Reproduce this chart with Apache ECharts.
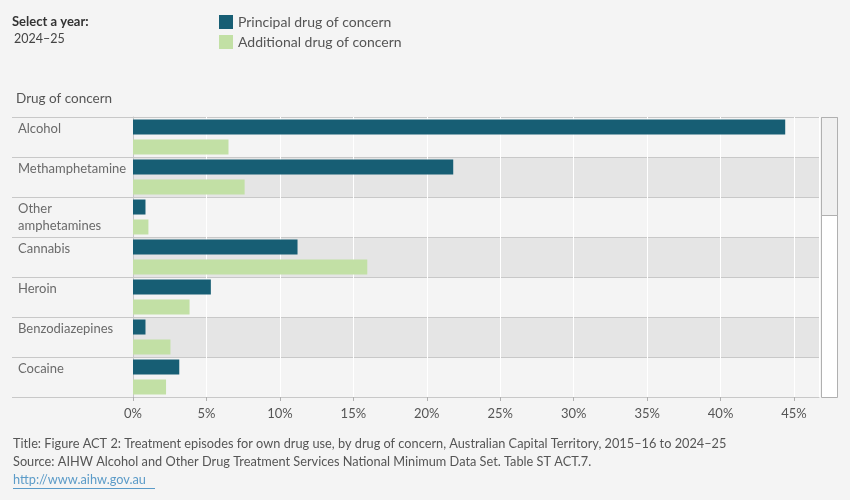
<!DOCTYPE html>
<html><head><meta charset="utf-8">
<script src="https://cdn.jsdelivr.net/npm/echarts@6/dist/echarts.min.js"></script>
<style>html,body{margin:0;padding:0;background:#f4f4f4}#c{width:850px;height:500px}</style>
</head><body><div id="c"></div>
<script>
const categories = ['Alcohol','Methamphetamine','Other amphetamines','Cannabis','Heroin','Benzodiazepines','Cocaine'];
const principal = [44.4, 21.8, 0.85, 11.2, 5.3, 0.85, 3.15];
const additional = [6.5, 7.6, 1.05, 15.95, 3.85, 2.55, 2.25];
const seriesNames = ['Principal drug of concern','Additional drug of concern'];
const xTicks = [0,5,10,15,20,25,30,35,40,45];
const FONT = 'Lato, "Noto Sans", sans-serif';

const chart = echarts.init(document.getElementById('c'));
chart.setOption({
  backgroundColor:'#f4f4f4',
  animation:false,
  textStyle:{fontFamily:FONT},
  grid:{left:133, top:117, right:31, bottom:103, containLabel:false},
  legend:{
    data:seriesNames, orient:'vertical', left:219, top:15, padding:0, itemWidth:14, itemHeight:14,
    itemGap:6, icon:'rect', textStyle:{fontSize:14, color:'#555', fontFamily:FONT, padding:[0,0,0,0]}
  },
  xAxis:{
    type:'value', min:0, max:46.7, interval:5,
    axisLine:{show:true, lineStyle:{color:'#c8c8c8'}},
    axisTick:{show:true, length:4, lineStyle:{color:'#b0b0b0'}},
    axisLabel:{color:'#555', fontSize:13, margin:10, showMaxLabel:false,
      formatter:v=> xTicks.indexOf(v)>=0 ? v+'%' : ''},
    splitLine:{show:true, lineStyle:{color:'#ffffff', width:1}}
  },
  yAxis:{
    type:'category', data:categories, inverse:true,
    axisLine:{show:true, lineStyle:{color:'#c8c8c8'}},
    axisTick:{show:true, length:121, interval:0, lineStyle:{color:'#c8c8c8'}},
    splitLine:{show:true, interval:0, lineStyle:{color:'#c8c8c8'}},
    splitArea:{show:true, interval:0, areaStyle:{color:['rgba(244,244,244,1)','rgba(229,229,229,1)']}},
    axisLabel:{
      align:'left', margin:115, interval:0, color:'#6a6a6a', fontSize:13, lineHeight:17,
      padding:[0,0,7,0],
      formatter:v=>{
        if (v==='Other amphetamines') return 'Other\namphetamines';
        return v+'\n ';
      }
    }
  },
  series:[
    {name:seriesNames[0], type:'bar', data:principal, barWidth:15, barGap:'33%',
     itemStyle:{color:'#175e74'}, z:3},
    {name:seriesNames[1], type:'bar', data:additional, barWidth:15, barGap:'33%',
     itemStyle:{color:'#c2e0a5'}, z:3}
  ],
  graphic:[
    {type:'text', left:12, top:15, style:{text:'Select a year:', font:'bold 13px '+FONT, fill:'#333'}},
    {type:'text', left:14, top:32, style:{text:'2024–25', font:'12.5px '+FONT, fill:'#444'}},
    {type:'text', left:16, top:92, style:{text:'Drug of concern', font:'13.5px '+FONT, fill:'#555'}},
    {type:'rect', shape:{x:821.5, y:117.5, width:16, height:280}, style:{fill:'#ffffff', stroke:'#b0b0b0', lineWidth:1}},
    {type:'rect', shape:{x:821.5, y:117.5, width:16, height:98}, style:{fill:'#f0f0f0', stroke:'#b0b0b0', lineWidth:1}},
    {type:'text', left:13, top:437, style:{text:'Title: Figure ACT 2: Treatment episodes for own drug use, by drug of concern, Australian Capital Territory, 2015–16 to 2024–25', font:'12.75px '+FONT, fill:'#555'}},
    {type:'text', left:13, top:455, style:{text:'Source: AIHW Alcohol and Other Drug Treatment Services National Minimum Data Set. Table ST ACT.7.', font:'12.75px '+FONT, fill:'#555'}},
    {type:'text', left:13, top:473, style:{text:'http://www.aihw.gov.au', font:'12.75px '+FONT, fill:'#5b9bc8'}},
    {type:'line', shape:{x1:13, y1:488.5, x2:155, y2:488.5}, style:{stroke:'#5b9bc8', lineWidth:1}}
  ]
});
</script></body></html>
